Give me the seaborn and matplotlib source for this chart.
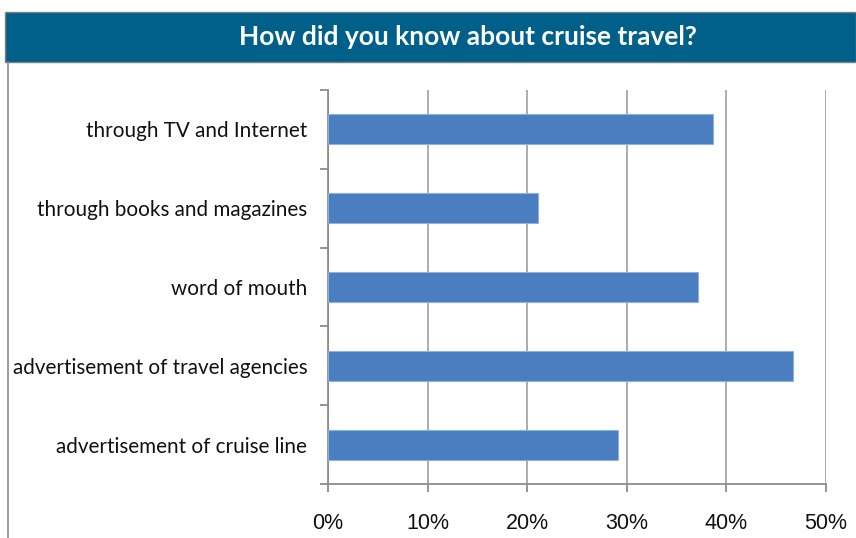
import matplotlib
matplotlib.use("Agg")
import matplotlib.pyplot as plt
from matplotlib.patches import Rectangle
from matplotlib.lines import Line2D
from matplotlib.ticker import FixedLocator, PercentFormatter
import seaborn as sns
import pandas as pd

categories = [
    "through TV and Internet",
    "through books and magazines",
    "word of mouth",
    "advertisement of travel agencies",
    "advertisement of cruise line",
]
values = [38.7, 21.1, 37.1, 46.7, 29.1]
x_ticks = [0, 10, 20, 30, 40, 50]
title = "How did you know about cruise travel?"

df = pd.DataFrame({"source": categories, "pct": values})

sns.set_theme(style="white")
plt.rcParams["font.family"] = ["Lato", "DejaVu Sans"]

fig = plt.figure(figsize=(8.56, 5.38), dpi=100)
ax = fig.add_axes([328 / 856, 1 - 484 / 538, (826 - 328) / 856, (484 - 90) / 538])

sns.barplot(data=df, x="pct", y="source", orient="h", color="#4A7EC0", saturation=1,
            width=0.38, edgecolor="#8FB0DD", linewidth=0.8, ax=ax, zorder=3)

ax.set_xlim(0, 50)
ax.set_ylim(4.5, -0.5)
ax.set_xticks(x_ticks)
ax.xaxis.set_major_formatter(PercentFormatter(decimals=0))
ax.grid(axis="x", color="#A6A6A6", linewidth=1.3, zorder=0)
ax.set_axisbelow(True)
ax.set_xlabel("")
ax.set_ylabel("")

for s in ["top", "right"]:
    ax.spines[s].set_visible(False)
for s in ["left", "bottom"]:
    ax.spines[s].set_color("#8C8C8C")
    ax.spines[s].set_linewidth(1.3)

ax.tick_params(axis="y", which="major", length=0, pad=15, labelsize=14.9, labelcolor="#111111")
ax.yaxis.set_minor_locator(FixedLocator([-0.5, 0.5, 1.5, 2.5, 3.5, 4.5]))
ax.tick_params(axis="y", which="minor", length=6, width=1.3, color="#8C8C8C", left=True)
ax.tick_params(axis="x", which="major", length=6, width=1.3, color="#8C8C8C", bottom=True,
               pad=15, labelsize=15.5, labelcolor="#111111")
for lab in ax.get_xticklabels():
    lab.set_fontfamily(["Liberation Sans", "DejaVu Sans"])

# header band
fig.patches.append(Rectangle((5 / 856, 1 - 62 / 538), 851 / 856, 50 / 538,
                             transform=fig.transFigure, facecolor="#00608A",
                             edgecolor="#7F7F7F", linewidth=1.0))
fig.text(468 / 856, 1 - 37 / 538, title, color="white", fontsize=19,
         fontweight="bold", ha="center", va="center")
# left frame line
fig.lines.append(Line2D([8 / 856, 8 / 856], [0, 1 - 62 / 538], transform=fig.transFigure,
                        color="#8C8C8C", linewidth=1.2))

fig.savefig("out.png", dpi=100)
